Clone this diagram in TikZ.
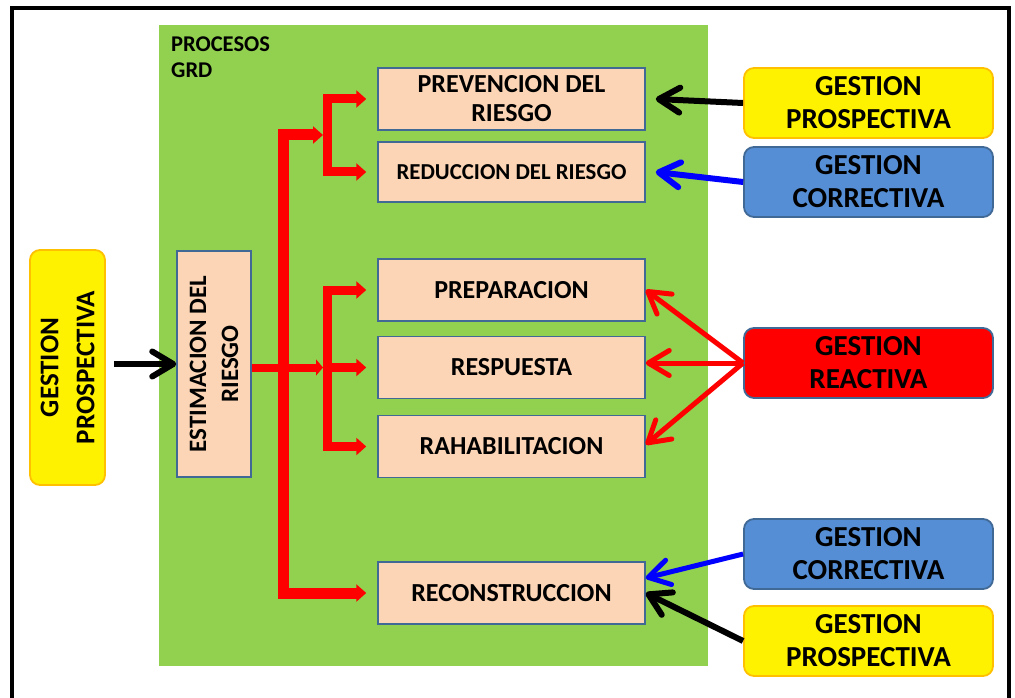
\documentclass[tikz,border=0pt]{standalone}
\usepackage{fontspec}
\setmainfont{Carlito}
\usetikzlibrary{arrows.meta}

\definecolor{grdgreen}{RGB}{146,208,80}
\definecolor{peach}{RGB}{251,213,181}
\definecolor{edgeblue}{RGB}{65,105,150}
\definecolor{gold}{RGB}{255,192,0}
\definecolor{skyblue}{RGB}{85,142,213}

\tikzset{
  proc/.style={draw=edgeblue, fill=peach, line width=1.5pt, inner sep=0pt,
    minimum width=267pt, minimum height=62pt, align=center,
    font=\bfseries\fontsize{26}{29}\selectfont},
  gestion/.style={draw=#1, rounded corners=10pt, line width=1.8pt, inner sep=0pt,
    minimum width=249pt, minimum height=70pt, align=center,
    font=\bfseries\fontsize{29}{33}\selectfont},
  barb/.style={line width=6pt, -{Straight Barb[round, length=21pt, width=25pt]}},
  branch/.style={red, line width=9pt, line join=miter},
  tri/.tip={Triangle[length=10pt, width=17pt]}
}

\begin{document}
\begin{tikzpicture}[x=1pt, y=-1pt]
\useasboundingbox (0,0) rectangle (1015,698);
\clip (0,0) rectangle (1015,698);
\fill[white] (0,0) rectangle (1015,698);
\draw[line width=3.5pt] (12,8) rectangle (1009,740);

% area of the processes
\fill[grdgreen] (159,25) rectangle (708,666);
\node[anchor=base west, align=left, inner sep=0pt,
  font=\bfseries\fontsize{22.5}{26}\selectfont] (titulo) at (171,78) {PROCESOS\\GRD};

\node[proc, minimum width=74pt, minimum height=226pt] (estim) at (214,364) {};
\node[rotate=90, align=center, font=\bfseries\fontsize{25}{32}\selectfont] (estimtxt) at (estim) {ESTIMACION DEL\\RIESGO};

\node[proc] (prev) at (511.5,99) {PREVENCION DEL\\RIESGO};
\node[proc, minimum height=60pt, font=\bfseries\fontsize{22.8}{26}\selectfont] (reduc) at (511.5,172) {REDUCCION DEL RIESGO};
\node[proc] (prep) at (511.5,290) {PREPARACION};
\node[proc] (resp) at (511.5,367.5) {RESPUESTA};
\node[proc] (rehab) at (511.5,446.5) {RAHABILITACION};
\node[proc] (recon) at (511.5,593) {RECONSTRUCCION};

\node[gestion=gold, fill=yellow, minimum width=235pt, minimum height=75pt, rotate=90,
  font=\bfseries\fontsize{27}{36}\selectfont] (prosp0) at (67.5,367.5) {GESTION\\PROSPECTIVA};

\node[gestion=gold, fill=yellow] (prosp1) at (868.5,103) {GESTION\\PROSPECTIVA};
\node[gestion=edgeblue, fill=skyblue] (correc1) at (868.5,182) {GESTION\\CORRECTIVA};
\node[gestion=edgeblue, fill=red] (reac) at (868.5,363) {GESTION\\REACTIVA};
\node[gestion=edgeblue, fill=skyblue] (correc2) at (868.5,554) {GESTION\\CORRECTIVA};
\node[gestion=gold, fill=yellow] (prosp2) at (868.5,641) {GESTION\\PROSPECTIVA};

% red tree
\coordinate (k1) at (327,135);
\coordinate (k2) at (327,367.5);
\coordinate (sp) at (283,135);
\draw[branch, tri-tri, shorten <=11pt, shorten >=11pt] (prev.west) -| (k1) |- (reduc.west);
\draw[branch, tri-tri, shorten <=11pt, shorten >=11pt] (prep.west) -| (k2) |- (rehab.west);
\draw[branch, -tri, shorten >=11pt] (k2) -- (resp.west);
\draw[branch, line width=11pt, tri-tri, shorten <=4pt, shorten >=11pt] (k1) -- (sp) |- (recon.west);
\draw[branch, line width=8pt, -{Triangle[length=7pt, width=16pt]}, shorten >=4pt] (estim.east |- k2) -- (k2);

% management arrows
\draw[barb] (prosp0.south |- estim) ++(8,0) coordinate (p0) -- (estim.west |- p0);
\draw[barb] (prosp1.west) -- ([xshift=10pt]prev.east);
\draw[barb, blue] (correc1.west) -- ([xshift=10pt]reduc.east);
\draw[barb, red, line width=5pt] (reac.west) -- (prep.east);
\draw[barb, red, line width=5pt] (reac.west) -- (resp.east |- reac.west);
\draw[barb, red, line width=5pt] (reac.west) -- ([yshift=2pt]rehab.east);
\draw[barb, blue, line width=5pt] (correc2.west) -- ([yshift=15pt]recon.east);
\draw[barb] (prosp2.west) -- (recon.east);
\end{tikzpicture}
\end{document}
